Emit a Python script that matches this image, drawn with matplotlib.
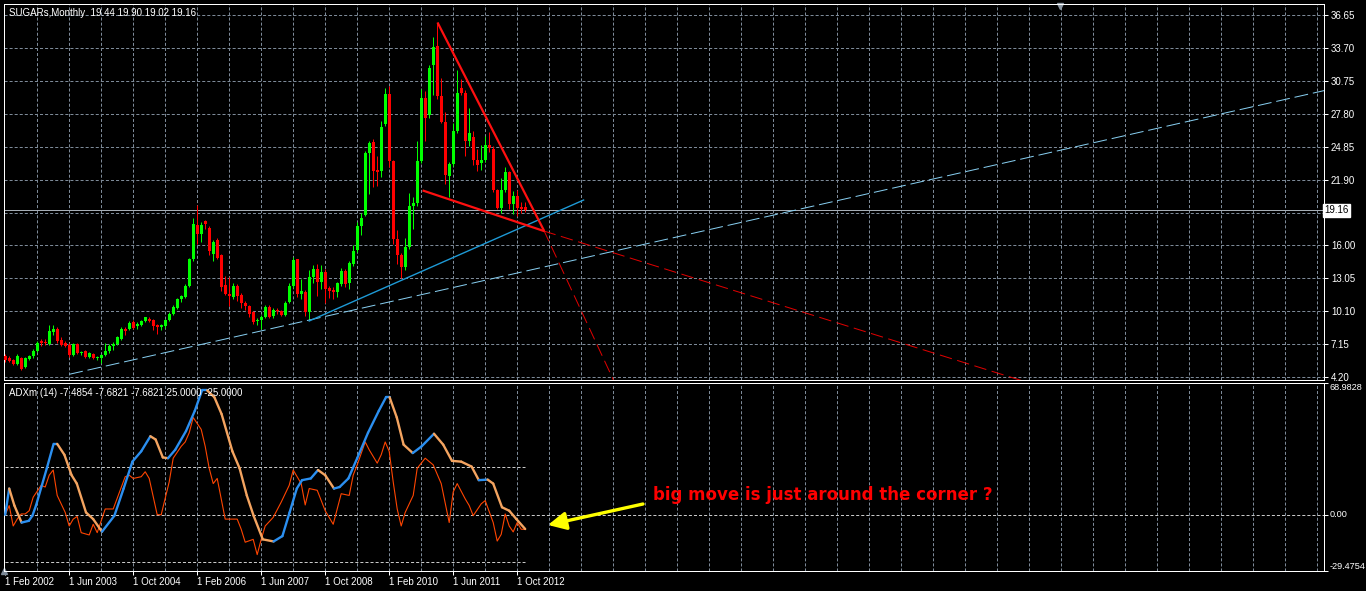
import numpy as np
import matplotlib
matplotlib.use('Agg')
import matplotlib.pyplot as plt
from matplotlib.collections import LineCollection
from matplotlib.transforms import blended_transform_factory

plt.rcParams['lines.scale_dashes'] = False
plt.rcParams['font.family'] = ['Liberation Sans', 'DejaVu Sans']

# SUGARs monthly candles, bar 0 = Feb 2002
opens = [6.05, 5.90, 5.70, 5.40, 5.90, 5.10, 5.80, 6.05, 6.55, 7.40,
         7.35, 7.15, 8.20, 8.55, 7.50, 7.30, 7.10, 6.20, 7.20, 6.35,
         6.50, 6.00, 6.30, 5.90, 5.90, 6.20, 6.50, 7.00, 7.20, 7.60,
         8.50, 8.55, 9.15, 8.75, 8.85, 9.25, 9.40, 9.30, 8.85, 8.70,
         8.75, 9.30, 9.90, 10.35, 11.20, 11.35, 12.40, 14.75, 17.80, 17.00,
         18.15, 17.55, 15.20, 16.45, 15.10, 12.45, 11.65, 11.40, 12.40, 11.60,
         10.85, 10.55, 10.00, 9.20, 9.30, 9.60, 10.50, 9.65, 10.20, 10.10,
         9.80, 10.90, 12.40, 14.75, 11.65, 11.80, 10.00, 13.20, 13.85, 12.70,
         13.65, 12.15, 12.00, 11.80, 12.55, 13.75, 12.60, 14.35, 15.60, 17.70,
         18.70, 24.30, 25.30, 22.80, 22.70, 26.90, 29.60, 23.60, 16.60, 15.15,
         14.10, 15.90, 19.55, 19.80, 23.60, 29.20, 27.70, 32.20, 33.90, 29.40,
         27.05, 22.20, 23.30, 26.25, 30.10, 29.70, 25.40, 25.70, 23.70, 23.40,
         23.70, 25.00, 24.60, 20.95, 19.40, 21.00, 22.60, 19.70, 20.40, 19.45,
         19.44]
highs = [6.25, 6.05, 5.80, 6.25, 6.00, 6.00, 6.20, 6.70, 7.40, 7.60,
         7.60, 8.90, 8.90, 8.65, 7.80, 7.45, 7.25, 7.30, 7.30, 6.50,
         6.60, 6.45, 6.40, 6.10, 6.30, 7.30, 7.20, 7.35, 7.85, 8.70,
         8.65, 9.25, 9.35, 9.10, 9.30, 9.60, 9.60, 9.40, 8.95, 9.00,
         9.40, 10.00, 10.65, 11.30, 11.60, 12.55, 14.90, 18.45, 19.65, 18.10,
         18.30, 17.70, 16.50, 16.70, 15.20, 13.30, 13.20, 12.60, 12.50, 11.70,
         11.00, 10.65, 10.10, 9.50, 9.80, 10.70, 10.70, 10.40, 10.40, 10.25,
         11.00, 12.60, 15.00, 14.80, 13.00, 12.00, 13.80, 14.25, 14.30, 14.25,
         13.90, 12.40, 12.30, 12.70, 13.95, 13.90, 14.60, 16.00, 18.10, 18.95,
         24.45, 25.35, 25.50, 24.00, 27.15, 30.10, 30.30, 23.70, 17.40, 15.30,
         16.70, 20.70, 20.30, 25.40, 30.00, 29.80, 32.20, 34.70, 35.90, 31.00,
         28.00, 23.50, 27.00, 31.70, 30.90, 29.90, 28.30, 26.30, 24.60, 25.00,
         25.80, 26.20, 24.90, 21.10, 22.00, 23.00, 22.70, 20.90, 21.00, 19.90,
         19.90]
lows = [5.55, 5.55, 5.30, 5.30, 4.85, 5.00, 5.70, 5.95, 6.45, 7.00,
        7.05, 7.05, 8.00, 7.30, 7.00, 6.90, 6.00, 6.10, 6.25, 6.20,
        5.90, 5.90, 5.80, 5.75, 5.45, 6.10, 6.40, 6.60, 7.10, 7.50,
        8.00, 8.40, 8.50, 8.55, 8.75, 9.10, 9.10, 8.40, 8.10, 8.40,
        8.60, 9.20, 9.80, 10.30, 10.90, 11.25, 12.30, 14.60, 16.10, 16.30,
        17.50, 15.10, 14.60, 14.80, 11.90, 11.60, 10.60, 11.20, 11.00, 10.40,
        10.20, 9.60, 9.00, 8.90, 8.55, 9.50, 9.50, 9.50, 9.90, 9.70,
        9.70, 10.80, 12.20, 11.40, 11.20, 9.70, 9.30, 12.60, 11.50, 12.10,
        10.80, 11.30, 11.20, 11.40, 12.35, 12.30, 12.10, 14.20, 15.40, 16.90,
        18.60, 20.60, 21.20, 21.30, 22.10, 26.70, 23.00, 16.10, 14.30, 13.05,
        13.80, 15.70, 17.50, 19.50, 23.40, 25.40, 27.40, 29.50, 29.10, 27.00,
        21.50, 20.30, 23.10, 26.10, 29.50, 24.00, 24.90, 23.20, 22.70, 22.80,
        23.50, 24.40, 20.80, 19.30, 18.95, 20.80, 19.30, 18.80, 18.60, 18.90,
        19.02]
closes = [5.70, 5.65, 5.40, 6.05, 4.95, 5.90, 6.05, 6.55, 7.30, 7.30,
          7.25, 8.30, 8.50, 7.45, 7.10, 7.00, 6.20, 7.20, 6.35, 6.45,
          6.00, 6.35, 5.90, 6.00, 6.20, 6.55, 7.00, 7.20, 7.75, 8.50,
          8.30, 9.05, 8.60, 9.00, 9.20, 9.55, 9.20, 8.75, 8.70, 8.90,
          9.35, 9.90, 10.50, 11.20, 11.45, 12.40, 14.75, 17.95, 17.00, 17.85,
          17.90, 15.50, 16.30, 14.90, 12.30, 11.65, 11.50, 12.40, 11.50, 10.80,
          10.55, 9.90, 9.15, 9.35, 9.60, 10.50, 9.60, 10.20, 10.10, 9.80,
          10.85, 12.40, 14.70, 11.65, 11.95, 10.00, 13.20, 13.85, 12.75, 13.65,
          12.10, 11.95, 11.80, 12.60, 13.75, 12.55, 14.40, 15.50, 17.70, 18.50,
          24.25, 25.20, 22.70, 22.60, 26.60, 29.60, 23.60, 16.60, 15.15, 14.10,
          15.90, 19.55, 19.80, 23.60, 29.20, 27.40, 31.90, 33.80, 29.40, 27.05,
          22.30, 23.30, 26.25, 29.70, 29.70, 25.40, 26.10, 23.70, 23.20, 23.70,
          25.00, 24.70, 20.95, 19.40, 21.00, 22.60, 19.70, 20.40, 19.40, 19.30,
          19.16]
last_price = 19.16

# hand drawn trend lines (bar, price)
ray_lightblue = ([16, 330], [4.45, 29.9])
line_blue = ([76, 144.6], [9.23, 20.07])
wedge_top = ([108.2, 134.6], [35.9, 17.4])
wedge_top_ext = ([134.6, 152.5], [17.4, 3.6])
wedge_bot = ([104.6, 134.6], [20.9, 17.3])
wedge_bot_ext = ([134.6, 254.0], [17.3, 3.9])

# ADXm(14) : main line and thin DI line (bar, value)
adx_bar = [0, 1, 2.3, 4.1, 5.9, 6.8, 7.7, 10.4, 12.1, 13.0,
           14.8, 16.6, 17.9, 20.2, 22.0, 24.2, 27.3, 29.6, 31.8, 34.0,
           36.3, 37.6, 39.4, 40.7, 42.5, 45.2, 47.4, 49.2, 50.5, 52.3,
           54.1, 56.8, 58.6, 60.4, 62.1, 64.4, 67.1, 69.3, 71.1, 72.9,
           74.2, 76.4, 78.2, 80.0, 82.2, 83.6, 85.8, 88.0, 90.7, 93.4,
           95.2, 96.1, 97.9, 99.6, 101.9, 104.1, 107.2, 109.5, 111.7, 114.0,
           116.6, 118.4, 120.6, 122.0, 124.2, 126.0, 127.8, 130]
adx_val = [0.0, 13.7, 4.8, -4.1, -3.2, -0.5, 4.8, 24.3, 37.1, 37.1,
           31.4, 20.7, 16.3, 1.2, -2.3, -8.9, -0.5, 13.7, 27.8, 33.2,
           41.1, 39.4, 30.0, 29.6, 34.0, 43.8, 54.4, 65.1, 65.1, 61.5,
           52.7, 33.2, 24.3, 10.1, -0.5, -12.9, -14.0, -11.2, 1.2, 13.7,
           18.1, 19.0, 23.4, 20.7, 13.7, 14.5, 19.0, 29.6, 42.9, 54.4,
           61.5, 61.5, 50.9, 36.7, 32.3, 35.8, 42.4, 36.7, 28.2, 27.8,
           25.2, 18.1, 18.4, 16.3, 3.9, 2.1, -2.3, -7.49]
di_bar = [0, 1, 2, 3, 4, 5, 6, 7, 9, 10, 11, 12, 13, 15, 16, 17, 18, 19, 21, 22,
          23, 25, 27, 30, 31, 32, 34, 35, 36, 38, 39, 41, 42, 44, 45, 46, 47, 49, 50, 51,
          52, 53, 55, 58, 59, 60, 62, 63, 64, 65, 67, 69, 71, 72, 74, 75, 76, 78, 80, 82,
          84, 86, 87, 88, 90, 91, 93, 94, 95, 96, 97, 98, 99, 100, 102, 103, 105, 107, 109, 111,
          112, 113, 115, 116, 117, 119, 120, 122, 123, 124, 125, 126, 127, 128, 129, 130]
di_val = [0.0, 4.8, -5.9, -2.3, 0.4, 0.4, 2.1, 9.2, 15.4, 14.5, 20.7, 23.4, 10.1, 1.2, -5.9, -2.3, -0.9, -9.4, -10.6, -5.0,
          -9.4, 3.0, 3.0, 19.9, 20.7, 19.0, 19.9, 22.5, 19.0, 0.0, 0.0, 17.2, 29.6, 35.8, 38.1, 42.9, 50.9, 44.7, 35.8, 24.3,
          16.3, 19.0, -2.3, -2.3, -7.6, -14.4, -12.9, -20.9, -12.9, -5.9, -1.4, 6.6, 15.4, 23.4, 16.3, 5.1, 13.7, 12.8, 2.1, -5.0,
          11.0, 10.1, 20.7, 26.1, 38.1, 34.0, 27.0, 31.4, 38.1, 33.2, 17.2, 3.0, -5.9, 1.2, 10.1, 24.3, 29.6, 26.1, 16.3, -4.1,
          11.9, 16.3, 8.3, 4.8, -0.5, 5.7, 7.4, -4.1, -13.8, -10.3, 0.4, -5.9, -9.0, -4.1, -7.6, -7.68]
adx_levels = [25, -25]

price_ticks = [4.20, 7.15, 10.10, 13.05, 16.00, 18.95, 21.90, 24.85, 27.80, 30.75, 33.70, 36.65]
price_labels = ['4.20', '7.15', '10.10', '13.05', '16.00', '', '21.90', '24.85', '27.80', '30.75', '33.70', '36.65']
adx_ticks = [-29.4754, 0.0, 68.9828]
adx_labels = ['-29.4754', '0.00', '68.9828']
date_bars = [0, 16, 32, 48, 64, 80, 96, 112, 128]
date_labels = ['1 Feb 2002', '1 Jun 2003', '1 Oct 2004', '1 Feb 2006', '1 Jun 2007',
               '1 Oct 2008', '1 Feb 2010', '1 Jun 2011', '1 Oct 2012']

W, H = 1366, 591
fig = plt.figure(figsize=(W / 100, H / 100), dpi=100, facecolor='black')

grid_col = '#7d8a98'
dot = (0, (2.2, 1.45))
px = 0.72

ax = fig.add_axes([4 / W, (H - 380) / H, 1320 / W, 376 / H], facecolor='black')
ax2 = fig.add_axes([4 / W, (H - 571) / H, 1320 / W, 188 / H], facecolor='black')

for a in (ax, ax2):
    a.set_xlim(-0.3, 329.7)
    for s in a.spines.values():
        s.set_color('white')
        s.set_linewidth(px)
    a.vlines(np.arange(8, 330, 8), 0, 1, transform=a.get_xaxis_transform(),
             colors=grid_col, linestyles=[dot], linewidth=px, zorder=0)
    a.yaxis.tick_right()

ax.tick_params(axis='y', colors='white', length=3, width=px, pad=2, labelsize=7)
ax2.tick_params(axis='y', colors='white', length=3, width=px, pad=1, labelsize=6.6)

ax.set_ylim(3.94, 37.64)
ax.set_xticks([])
ax.hlines(price_ticks, -0.3, 329.7, colors=grid_col, linestyles=[dot], linewidth=px, zorder=0)
ax.set_yticks(price_ticks)
ax.set_yticklabels(price_labels)
ax.axhline(last_price, color='#a6aeb6', linewidth=px, zorder=1)

# candles
o = np.array(opens)
c = np.array(closes)
idx = np.arange(len(o))
up = c >= o
col = np.where(up, '#00ff00', '#ff0000')
ax.vlines(idx, lows, highs, colors=col, linewidth=px, zorder=3)
body = np.maximum(np.abs(c - o), 0.07)
ax.bar(idx, body, bottom=np.minimum(o, c), width=0.75, color=col, linewidth=0, zorder=4)

# trend lines
ax.plot(*ray_lightblue, color='#87cef0', linewidth=px, linestyle=(0, (10, 3.5)), zorder=5)
ax.plot(*line_blue, color='#1e9ad6', linewidth=1.0, zorder=5)
ax.plot(*wedge_top, color='#ff1010', linewidth=1.6, zorder=6)
ax.plot(*wedge_bot, color='#ff1010', linewidth=1.6, zorder=6)
ax.plot(*wedge_top_ext, color='#e00000', linewidth=px, linestyle=(0, (9, 4)), zorder=5)
ax.plot(*wedge_bot_ext, color='#e00000', linewidth=px, linestyle=(0, (9, 4)), zorder=5)

ax.text(1.0, last_price, '19.16', transform=blended_transform_factory(ax.transAxes, ax.transData),
        ha='left', va='center', fontsize=7, color='black',
        bbox=dict(boxstyle='square,pad=0.15', fc='white', ec='white'))
ax.plot([0.8], [0.995], marker='v', color='#8a96a2', markersize=5, transform=ax.transAxes, clip_on=False)

# ADX panel
ax2.set_ylim(-29.4754, 68.9828)
ax2.axhline(0, color='#c8c8c8', linestyle=dot, linewidth=px, zorder=1)
ax2.hlines(adx_levels, 0, len(o) - 1, colors='#c8c8c8', linestyles=[dot], linewidth=px, zorder=1)
ax2.set_yticks(adx_ticks)
ax2.set_yticklabels(adx_labels)
for lbl, va in zip(ax2.get_yticklabels(), ['bottom', 'center', 'top']):
    lbl.set_verticalalignment(va)

ax2.plot(di_bar, di_val, color='#ff4500', linewidth=0.8, zorder=3)
pts = np.column_stack([adx_bar, adx_val])
segs = np.stack([pts[:-1], pts[1:]], axis=1)
seg_col = ['#2b8ff0' if b >= a else '#f4a460' for a, b in zip(adx_val[:-1], adx_val[1:])]
ax2.add_collection(LineCollection(segs, colors=seg_col, linewidths=1.7, zorder=4, capstyle='round'))

ax2.set_xticks(date_bars)
ax2.set_xticklabels(date_labels)
ax2.tick_params(axis='x', colors='white', length=3, width=px, pad=1, labelsize=7)
for lbl in ax2.get_xticklabels():
    lbl.set_horizontalalignment('left')
ax2.plot([0.0], [0.0], marker='^', color='#7d8a98', markersize=4, transform=ax2.transAxes, clip_on=False)

# headers and annotation
fig.text(9 / W, 1 - 13 / H, 'SUGARs,Monthly  19.44 19.90 19.02 19.16', color='white',
         fontsize=7, va='center', ha='left')
fig.text(9 / W, 1 - 393 / H, 'ADXm (14) -7.4854 -7.6821 -7.6821 25.0000 -25.0000', color='white',
         fontsize=7, va='center', ha='left')
fig.text(653 / W, 1 - 495 / H, 'big move is just around the corner ?', color='#ff0000',
         fontsize=12, fontweight='bold', family='DejaVu Sans', va='center', ha='left')
ax2.annotate('', xy=(548, H - 525), xycoords='figure pixels',
             xytext=(643, H - 504), textcoords='figure pixels',
             arrowprops=dict(arrowstyle='-|>,head_length=0.9,head_width=0.45', color='#ffff00',
                             lw=2.4, mutation_scale=12, shrinkA=0, shrinkB=0))

fig.savefig('out.png', dpi=100, facecolor='black')
